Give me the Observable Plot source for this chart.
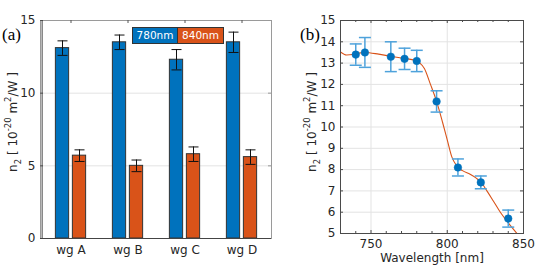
<!DOCTYPE html>
<html><head><meta charset="utf-8">
<script src="https://cdn.jsdelivr.net/npm/d3@7"></script>
<script src="https://cdn.jsdelivr.net/npm/@observablehq/plot@0.6"></script>
<style>
body{margin:0;background:#fff;}
#wrap{position:relative;width:547px;height:268px;overflow:hidden;font-family:"DejaVu Sans",sans-serif;}
#wrap > div.p{position:absolute;top:0;}
.tag{position:absolute;font-family:"Liberation Serif",serif;font-size:17px;line-height:1;color:#000;}
.leg{position:absolute;top:27px;left:132px;height:15px;display:flex;border:1px solid #333;font-size:10.5px;line-height:15px;color:#fff;}
.leg span{display:block;text-align:center;}
</style></head><body><div id="wrap"></div>
<script>
// ---- panel (a) data ----
const waveguides = ["wg A", "wg B", "wg C", "wg D"];
const n2_780 = [13.1, 13.5, 12.3, 13.5];
const n2_780_lo = [12.6, 13.0, 11.6, 12.8];
const n2_780_hi = [13.6, 14.0, 13.0, 14.2];
const n2_840 = [5.7, 5.0, 5.8, 5.6];
const n2_840_lo = [5.3, 4.6, 5.3, 5.1];
const n2_840_hi = [6.1, 5.4, 6.3, 6.1];
const yTicksA = [0, 5, 10, 15];
const gridA = [5, 10];
const legendLabels = ["780nm", "840nm"];

// ---- panel (b) data ----
const wavelength = [740, 746, 763, 772, 780, 793, 807, 822, 840];
const n2 = [13.4, 13.5, 13.3, 13.2, 13.1, 11.2, 8.1, 7.4, 5.7];
const n2_lo = [12.9, 12.8, 12.6, 12.7, 12.6, 10.7, 7.7, 7.1, 5.3];
const n2_hi = [13.9, 14.2, 14.0, 13.7, 13.6, 11.7, 8.5, 7.7, 6.1];
const fitWavelength = [730, 734, 738, 742, 746, 755, 763, 772, 779, 782, 785, 789, 793, 797, 800, 803, 806, 810, 815, 819, 822, 826, 830, 834.6, 840, 845.7, 849];
const fitN2 = [13.52, 13.38, 13.40, 13.47, 13.50, 13.42, 13.32, 13.22, 13.12, 13.0, 12.75, 12.0, 11.2, 10.2, 9.4, 8.6, 8.2, 7.95, 7.78, 7.6, 7.42, 7.0, 6.55, 6.02, 5.5, 5.0, 4.7];
const xTicksB = [750, 800, 850];
const xMinorB = [740, 760, 770, 780, 790, 810, 820, 830, 840];
const yTicksB = [5, 6, 7, 8, 9, 10, 11, 12, 13, 14, 15];
const gridXB = [750, 800];

const blue = "#0072BD", orange = "#D95319";
// y label pieces: [text, "sub"|"sup"|null]
const yLabelParts = [["n", null], ["2", "sub"], [" [ 10", null], ["-20", "sup"], [" m", null], ["2", "sup"], ["/W ]", null]];
const capSymbol = {draw(ctx, size) { const w = Math.sqrt(size / Math.PI); ctx.moveTo(-w, 0); ctx.lineTo(w, 0); }};
const style = {fontFamily: "DejaVu Sans, sans-serif", fontSize: "12px", color: "#262626", background: "transparent", overflow: "visible"};

// ---- build tables ----
const barsA = waveguides.flatMap((w, i) => [
  {wg: w, series: legendLabels[0], n2: n2_780[i], lo: n2_780_lo[i], hi: n2_780_hi[i]},
  {wg: w, series: legendLabels[1], n2: n2_840[i], lo: n2_840_lo[i], hi: n2_840_hi[i]}
]);
const s780 = barsA.filter(d => d.series === legendLabels[0]);
const s840 = barsA.filter(d => d.series === legendLabels[1]);
const ptsB = wavelength.map((x, i) => ({x, y: n2[i], lo: n2_lo[i], hi: n2_hi[i]}));
const fitB = fitWavelength.map((x, i) => ({x, y: fitN2[i]}));

function addYLabel(svg, cx, cy) {
  const t = d3.select(svg).append("text")
    .attr("transform", `translate(${cx},${cy}) rotate(-90)`)
    .attr("text-anchor", "middle").attr("dominant-baseline", "middle")
    .attr("fill", "#262626").style("font-family", "DejaVu Sans, sans-serif").style("font-size", "12px");
  yLabelParts.forEach(([s, k]) => {
    const ts = t.append("tspan").text(s);
    if (k === "sup") ts.attr("baseline-shift", "super").style("font-size", "8.5px");
    if (k === "sub") ts.attr("baseline-shift", "sub").style("font-size", "8.5px");
  });
}

// ---- panel (a) ----
const WA = 275, mLA = 40, mRA = 4, mTA = 20, mBA = 30, HA = 268;
const fwA = WA - mLA - mRA, fhA = HA - mTA - mBA;
const bw = fwA / waveguides.length;
const barW = 14, gap = 3;
const inBlueL = bw / 2 - gap / 2 - barW, inBlueR = bw / 2 + gap / 2;
const off = gap / 2 + barW / 2;

const plotA = Plot.plot({
  width: WA, height: HA, marginLeft: mLA, marginRight: mRA, marginTop: mTA, marginBottom: mBA,
  style,
  x: {type: "band", domain: waveguides, padding: 0},
  y: {domain: [0, 15]},
  marks: [
    Plot.gridY(gridA, {stroke: "#e3e3e3", strokeOpacity: 1}),
    Plot.frame({stroke: "#9a9a9a"}),
    Plot.barY(s780, {x: "wg", y: "n2", fill: blue, stroke: "#333", strokeWidth: 1, insetLeft: inBlueL, insetRight: inBlueR}),
    Plot.barY(s840, {x: "wg", y: "n2", fill: orange, stroke: "#333", strokeWidth: 1, insetLeft: inBlueR, insetRight: inBlueL}),
    Plot.ruleX(s780, {x: "wg", y1: "lo", y2: "hi", dx: -off, stroke: "#111", strokeWidth: 1}),
    Plot.ruleX(s840, {x: "wg", y1: "lo", y2: "hi", dx: off, stroke: "#111", strokeWidth: 1}),
    Plot.dot(s780, {x: "wg", y: "lo", dx: -off, symbol: capSymbol, r: 5, stroke: "#111", strokeWidth: 1}),
    Plot.dot(s780, {x: "wg", y: "hi", dx: -off, symbol: capSymbol, r: 5, stroke: "#111", strokeWidth: 1}),
    Plot.dot(s840, {x: "wg", y: "lo", dx: off, symbol: capSymbol, r: 5, stroke: "#111", strokeWidth: 1}),
    Plot.dot(s840, {x: "wg", y: "hi", dx: off, symbol: capSymbol, r: 5, stroke: "#111", strokeWidth: 1}),
    Plot.tickX(waveguides, {x: d => d, insetBottom: fhA - 3, stroke: "#555"}),
    Plot.tickY(yTicksA, {y: d => d, insetRight: fwA - 3, stroke: "#555"}),
    Plot.tickY(yTicksA, {y: d => d, insetLeft: fwA - 3, stroke: "#999"}),
    Plot.ruleY([0], {stroke: "#444"}),
    Plot.ruleX([waveguides[0]], {dx: -bw / 2, stroke: "#444"}),
    Plot.axisX({tickSize: 0, tickPadding: 7, label: null, fontSize: 12}),
    Plot.axisY({ticks: yTicksA, tickSize: 0, tickPadding: 5, label: null, fontSize: 12})
  ]
});
addYLabel(plotA, 13, 122);

// ---- panel (b) ----
const LB = 270, WB = 277, mLB = 70, mRB = 24, mTB = 20, mBB = 35, HB = 268;
const fwB = WB - mLB - mRB, fhB = HB - mTB - mBB;
const plotB = Plot.plot({
  width: WB, height: HB, marginLeft: mLB, marginRight: mRB, marginTop: mTB, marginBottom: mBB,
  style,
  x: {domain: [730, 850]},
  y: {domain: [5, 15]},
  marks: [
    Plot.gridY(yTicksB, {stroke: "#e3e3e3", strokeOpacity: 1}),
    Plot.gridX(gridXB, {stroke: "#e3e3e3", strokeOpacity: 1}),
    Plot.line(fitB, {x: "x", y: "y", curve: "monotone-x", stroke: orange, strokeWidth: 1.1, clip: true}),
    Plot.ruleX(ptsB, {x: "x", y1: "lo", y2: "hi", stroke: "#4ea2db", strokeWidth: 1.5}),
    Plot.dot(ptsB, {x: "x", y: "lo", symbol: capSymbol, r: 6, stroke: "#4ea2db", strokeWidth: 1.5}),
    Plot.dot(ptsB, {x: "x", y: "hi", symbol: capSymbol, r: 6, stroke: "#4ea2db", strokeWidth: 1.5}),
    Plot.dot(ptsB, {x: "x", y: "y", r: 3.8, fill: blue, stroke: blue, strokeWidth: 0.5}),
    Plot.frame({stroke: "#4a4a4a"}),
    Plot.tickY(yTicksB, {y: d => d, insetRight: fwB - 3, stroke: "#4a4a4a"}),
    Plot.tickY(yTicksB, {y: d => d, insetLeft: fwB - 3, stroke: "#4a4a4a"}),
    Plot.tickX(xTicksB, {x: d => d, insetBottom: fhB - 3, stroke: "#4a4a4a"}),
    Plot.tickX(xTicksB, {x: d => d, insetTop: fhB - 3, stroke: "#4a4a4a"}),
    Plot.tickX(xMinorB, {x: d => d, insetBottom: fhB - 2, stroke: "#4a4a4a"}),
    Plot.tickX(xMinorB, {x: d => d, insetTop: fhB - 2, stroke: "#4a4a4a"}),
    Plot.axisX({ticks: xTicksB, tickSize: 0, tickPadding: 6, label: "Wavelength [nm]", labelAnchor: "center", labelArrow: "none", labelOffset: 28, fontSize: 12}),
    Plot.axisY({ticks: yTicksB, tickSize: 0, tickPadding: 5, label: null, fontSize: 12})
  ]
});
addYLabel(plotB, 42, 122);

const wrap = document.getElementById("wrap");
const pa = document.createElement("div"); pa.className = "p"; pa.style.left = "0px"; pa.appendChild(plotA); wrap.appendChild(pa);
const pb = document.createElement("div"); pb.className = "p"; pb.style.left = LB + "px"; pb.appendChild(plotB); wrap.appendChild(pb);

const leg = document.createElement("div"); leg.className = "leg";
[[legendLabels[0], blue, 44], [legendLabels[1], orange, 45]].forEach(([t, c, w], i) => {
  const s = document.createElement("span"); s.textContent = t; s.style.background = c; s.style.width = w + "px";
  if (i === 0) s.style.borderRight = "1px solid #333";
  leg.appendChild(s);
});
wrap.appendChild(leg);

const ta = document.createElement("div"); ta.className = "tag"; ta.textContent = "(a)"; ta.style.left = "2px"; ta.style.top = "26px"; wrap.appendChild(ta);
const tb = document.createElement("div"); tb.className = "tag"; tb.textContent = "(b)"; tb.style.left = "300px"; tb.style.top = "26px"; wrap.appendChild(tb);
</script></body></html>
